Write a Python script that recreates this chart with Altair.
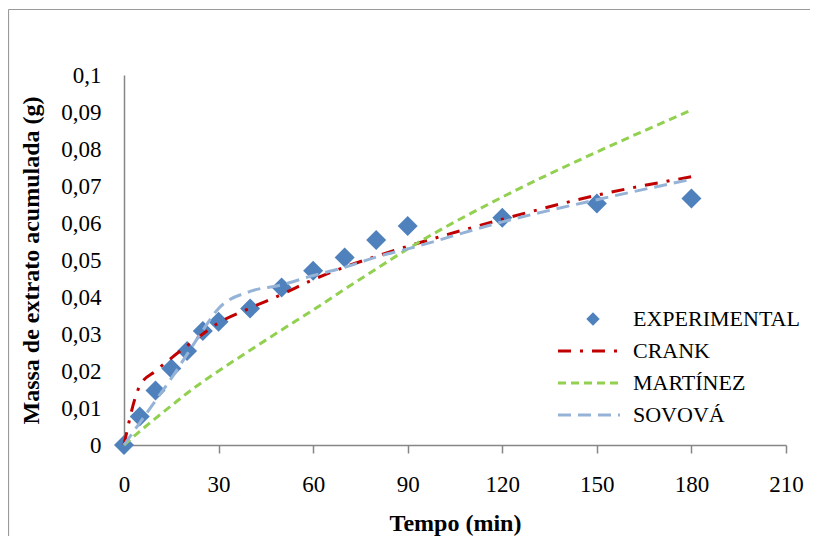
import altair as alt
import pandas as pd

# ---- data ----
tempo = [0, 5, 10, 15, 20, 25, 30, 40, 50, 60, 70, 80, 90, 120, 150, 180]
experimental = [0, 0.0077, 0.0147, 0.0207, 0.0254, 0.0308, 0.0333, 0.0369, 0.0426,
                0.0471, 0.0507, 0.0554, 0.0592, 0.0614, 0.0653, 0.0666]
crank = [0, 0.0160, 0.0200, 0.0235, 0.0268, 0.0300, 0.0330, 0.0370, 0.0407,
         0.0447, 0.0481, 0.0510, 0.0537, 0.0610, 0.0675, 0.0725]
martinez = [0, 0.0037, 0.0072, 0.0106, 0.0140, 0.0171, 0.0200, 0.0256, 0.0311,
            0.0365, 0.0421, 0.0476, 0.0530, 0.0670, 0.0792, 0.0905]
sovova = [0, 0.0060, 0.0120, 0.0180, 0.0245, 0.0310, 0.0369, 0.0415, 0.0433,
          0.0458, 0.0480, 0.0508, 0.0530, 0.0603, 0.0663, 0.0718]
series_names = ["EXPERIMENTAL", "CRANK", "MARTÍNEZ", "SOVOVÁ"]
x_ticks = [0, 30, 60, 90, 120, 150, 180, 210]
y_ticks = [0, 0.01, 0.02, 0.03, 0.04, 0.05, 0.06, 0.07, 0.08, 0.09, 0.1]

FONT = "Liberation Serif"
BLUE = "#4F81BD"
RED = "#C00000"
GREEN = "#92D050"
LIGHTBLUE = "#95B3D7"
FRAME = "#9a9a9a"

df_exp = pd.DataFrame({"tempo": tempo, "valor": experimental})
df_crank = pd.DataFrame({"tempo": tempo, "valor": crank})
df_mart = pd.DataFrame({"tempo": tempo, "valor": martinez})
df_sov = pd.DataFrame({"tempo": tempo, "valor": sovova})

x_enc = alt.X(
    "tempo:Q",
    scale=alt.Scale(domain=[0, 210], nice=False),
    axis=alt.Axis(
        values=x_ticks, title="Tempo (min)", tickSize=8, labelPadding=20,
        titlePadding=15, labelFlush=False, labelOverlap=False,
    ),
)
y_enc = alt.Y(
    "valor:Q",
    scale=alt.Scale(domain=[0, 0.1], nice=False),
    axis=alt.Axis(
        values=y_ticks, title="Massa de extrato acumulada (g)", ticks=False,
        labelPadding=23, titlePadding=17, labelOverlap=False, labelSeparation=0,
        labelExpr="replace(format(datum.value, '.2~f'), '.', ',')",
    ),
)

points = alt.Chart(df_exp).mark_point(
    shape="diamond", filled=True, size=400, color=BLUE, opacity=1
).encode(x=x_enc, y=y_enc)


def model_line(df, color, dash, width=3):
    return alt.Chart(df).mark_line(
        color=color, strokeDash=dash, strokeWidth=width, interpolate="monotone",
        strokeCap="butt",
    ).encode(x=x_enc, y=y_enc)


l_crank = model_line(df_crank, RED, [13, 9, 3, 9])
l_mart = model_line(df_mart, GREEN, [8, 5])
l_sov = model_line(df_sov, LIGHTBLUE, [13, 7])

# ---- manual legend ----
LX_TEXT = 509
LX0, LX1 = 434, 496
LY = [244, 276, 308, 340]


def legend_text(i):
    return alt.Chart(alt.Data(values=[{"label": series_names[i]}])).mark_text(
        align="left", baseline="middle", font=FONT, fontSize=22, color="black"
    ).encode(text="label:N", x=alt.value(LX_TEXT), y=alt.value(LY[i]))


def legend_line(i, color, dash):
    return alt.Chart(alt.Data(values=[{"k": 1}])).mark_rule(
        color=color, strokeDash=dash, strokeWidth=3, strokeCap="butt"
    ).encode(x=alt.value(LX0), x2=alt.value(LX1), y=alt.value(LY[i]))


leg_marker = alt.Chart(alt.Data(values=[{"k": 1}])).mark_point(
    shape="diamond", filled=True, size=180, color=BLUE, opacity=1
).encode(x=alt.value(469), y=alt.value(LY[0]))

# outer frame of the chart (top and left edges are the only visible ones)
frame_top = alt.Chart(alt.Data(values=[{"k": 1}])).mark_rule(
    color=FRAME, strokeWidth=1.2
).encode(x=alt.value(-115.5), x2=alt.value(720), y=alt.value(-65.5))
frame_left = alt.Chart(alt.Data(values=[{"k": 1}])).mark_rule(
    color=FRAME, strokeWidth=1.2
).encode(x=alt.value(-115.5), y=alt.value(-65.5), y2=alt.value(520))

chart = alt.layer(
    frame_top,
    frame_left,
    points,
    l_crank,
    l_mart,
    l_sov,
    leg_marker,
    legend_line(1, RED, [13, 9, 3, 9]),
    legend_line(2, GREEN, [8, 5]),
    legend_line(3, LIGHTBLUE, [13, 7]),
    legend_text(0),
    legend_text(1),
    legend_text(2),
    legend_text(3),
).properties(
    width=662,
    height=370,
    autosize=alt.AutoSizeParams(type="none"),
    padding={"left": 116, "top": 67, "right": 24, "bottom": 91},
    background="white",
).configure_axis(
    labelFont=FONT, labelFontSize=23, labelColor="black",
    titleFont=FONT, titleFontSize=24, titleFontWeight="bold", titleColor="black",
    grid=False, domainColor="#868686", tickColor="#868686", domainWidth=1.5,
    tickWidth=1.5, labelOverlap=False,
).configure_view(stroke="transparent")

chart.save("out.html", embed_options={"renderer": "svg", "actions": False})
